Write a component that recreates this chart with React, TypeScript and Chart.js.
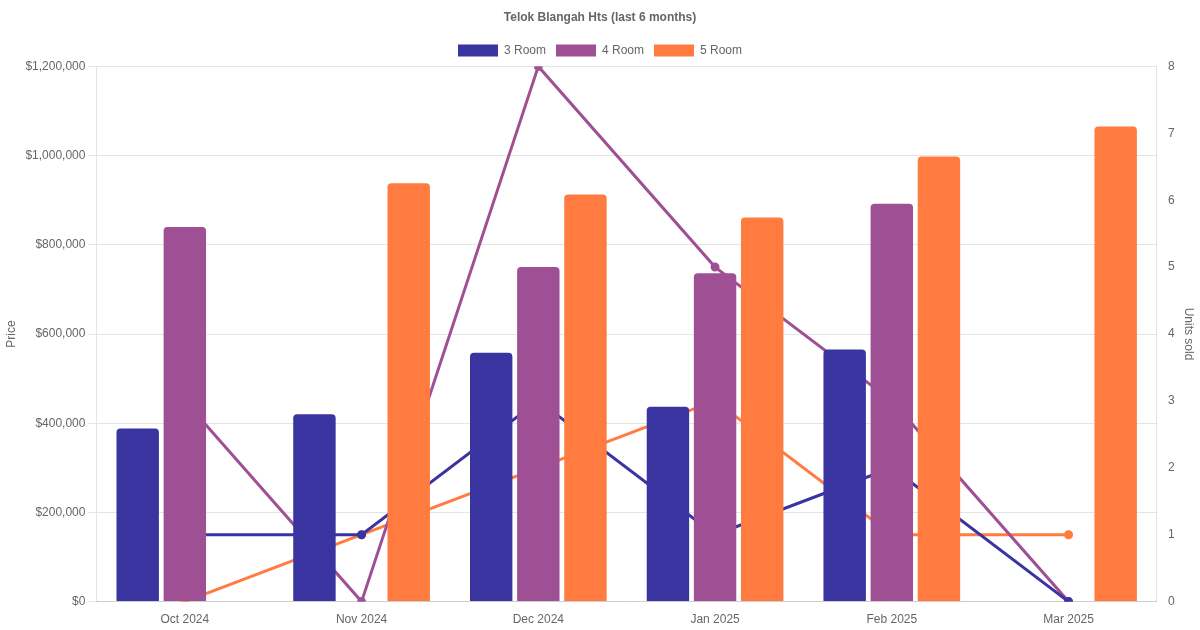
import React, { useEffect, useRef } from "react";
import { Chart, registerables } from "chart.js";
Chart.register(...registerables);

const categories = ["Oct 2024", "Nov 2024", "Dec 2024", "Jan 2025", "Feb 2025", "Mar 2025"];
const price3 = [388000, 420000, 558000, 437000, 565000, null];
const price4 = [840000, null, 750000, 736000, 892000, null];
const price5 = [null, 938000, 913000, 861000, 998000, 1065000];
const units3 = [1, 1, 3, 1, 2, 0];
const units4 = [3, 0, 8, 5, 3, 0];
const units5 = [0, 1, 2, 3, 1, 1];
const c3 = "#3a34a0", c4 = "#9f5095", c5 = "#ff7b3f";

export default function App() {
  const ref = useRef<HTMLCanvasElement>(null);
  useEffect(() => {
    document.body.style.margin = "0";
    Chart.defaults.font.family = "Arial, 'Liberation Sans', sans-serif";
    Chart.defaults.color = "#666";
    const bar = (label: string, data: any[], c: string) => ({ type: "bar" as const, label, data, backgroundColor: c, borderRadius: 4, yAxisID: "y", order: 1 });
    const line = (label: string, data: number[], c: string) => ({ type: "line" as const, label, data, borderColor: c, backgroundColor: c, borderWidth: 3, pointRadius: 3, yAxisID: "y1", order: 2 });
    const chart = new Chart(ref.current!, {
      type: "bar",
      data: {
        labels: categories,
        datasets: [bar("3 Room", price3, c3), bar("4 Room", price4, c4), bar("5 Room", price5, c5),
          line("3 Room units", units3, c3), line("4 Room units", units4, c4), line("5 Room units", units5, c5)] as any,
      },
      options: {
        animation: false, responsive: false,
        plugins: {
          title: { display: true, text: "Telok Blangah Hts (last 6 months)", font: { size: 12, weight: "bold" } },
          legend: { labels: { filter: (i: any) => i.datasetIndex < 3 } },
        },
        scales: {
          x: { grid: { display: false } },
          y: { min: 0, max: 1200000, ticks: { stepSize: 200000, callback: (v: any) => "$" + Number(v).toLocaleString("en-US") }, title: { display: true, text: "Price" } },
          y1: { position: "right", min: 0, max: 8, ticks: { stepSize: 1 }, grid: { display: false }, title: { display: true, text: "Units sold" } },
        },
      } as any,
    });
    return () => chart.destroy();
  }, []);
  return <canvas ref={ref} width={1200} height={630} style={{ display: "block" }} />;
}
